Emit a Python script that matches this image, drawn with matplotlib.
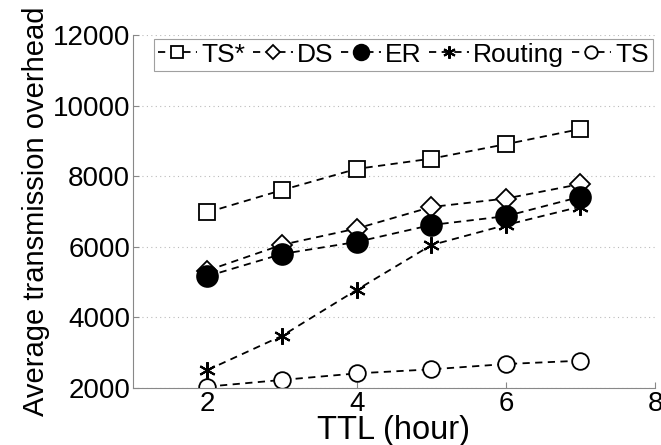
import matplotlib
matplotlib.use("Agg")
import matplotlib.pyplot as plt

plt.rcParams['font.family'] = ['Liberation Sans', 'DejaVu Sans']

ttl = [2, 3, 4, 5, 6, 7]
ts_star = [6980, 7610, 8210, 8500, 8910, 9340]
ds = [5330, 6060, 6520, 7130, 7370, 7780]
er = [5170, 5800, 6140, 6620, 6870, 7420]
routing = [2510, 3480, 4780, 6050, 6620, 7140]
ts = [2040, 2230, 2415, 2530, 2680, 2775]

series = [
    ("TS*", ts_star, dict(marker='s', mfc='white', ms=11)),
    ("DS", ds, dict(marker='D', mfc='white', ms=10)),
    ("ER", er, dict(marker='o', mfc='black', ms=15)),
    ("Routing", routing, dict(marker=(6, 2, 0), mfc='black', ms=12, mew=1.5)),
    ("TS", ts, dict(marker='o', mfc='white', ms=12)),
]

fig = plt.figure(figsize=(6.61, 4.45), dpi=100)
ax = fig.add_axes([0.201, 0.128, 0.790, 0.793])
for name, vals, kw in series:
    mew = kw.pop('mew', 1.3)
    ax.plot(ttl, vals, linestyle='--', color='black', lw=1.3, mec='black',
            mew=mew, label=name, dashes=(4, 3), **kw)

ax.set_xlim(1, 8)
ax.set_ylim(2000, 12000)
ax.set_xticks([2, 4, 6, 8])
ax.set_yticks([2000, 4000, 6000, 8000, 10000, 12000])
ax.tick_params(labelsize=20, direction='in', length=4, color='#888888', pad=2)
ax.yaxis.grid(True, linestyle=(0, (1, 3)), color='#bbbbbb', lw=0.8)
for s in ['top', 'right']:
    ax.spines[s].set_visible(False)
for s in ['left', 'bottom']:
    ax.spines[s].set_color('#888888')
ax.set_xlabel("TTL (hour)", fontsize=23.5, labelpad=-1)
ax.xaxis.set_label_coords(0.5, -0.077)
ax.xaxis.label.set_va('top')
ax.set_ylabel("Average transmission overhead", fontsize=21, labelpad=2)

leg = ax.legend(loc='upper left', bbox_to_anchor=(0.04, 0.99), ncol=5, fontsize=19,
                handlelength=1.5, handletextpad=0.15, columnspacing=0.3,
                borderpad=0.15, borderaxespad=0.0, fancybox=False,
                edgecolor='#888888', markerscale=0.75)
leg.get_frame().set_linewidth(0.8)

fig.savefig("out.png", dpi=100)
